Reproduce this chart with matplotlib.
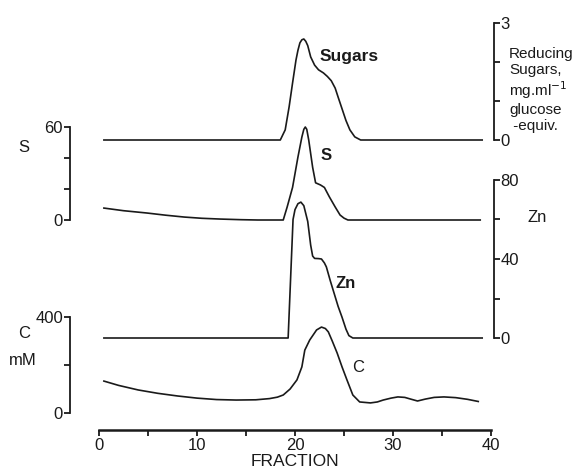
import matplotlib
matplotlib.use("Agg")
import matplotlib.pyplot as plt

plt.rcParams["font.family"] = ["Liberation Sans", "DejaVu Sans"]
W, H = 577, 469
INK = "#1a1a1a"

# ---- data (fraction number vs value) ----
sug_x = [0.5, 18.5, 19.0, 19.4, 19.75, 20.1, 20.3, 20.5, 20.7, 20.9, 21.1, 21.3, 21.6, 22.0,
         22.4, 22.9, 23.3, 23.7, 24.1, 24.4, 24.8, 25.2, 25.6, 26.1, 26.7, 39.1]
sug_y = [0, 0, 0.26, 0.85, 1.46, 2.05, 2.3, 2.49, 2.57, 2.59, 2.53, 2.42, 2.13, 1.92,
         1.8, 1.72, 1.63, 1.52, 1.33, 1.1, 0.8, 0.5, 0.26, 0.08, 0, 0]

s_x = [0.5, 2.5, 4.9, 6.8, 8.7, 10.5, 12.4, 14.5, 16.2, 18.8, 19.2, 19.75, 20.3, 20.7, 20.9,
       21.05, 21.2, 21.4, 21.8, 22.1, 22.6, 23.0, 23.5, 24.1, 24.6, 25.0, 25.4, 38.9]
s_y = [7.7, 6.0, 4.5, 3.1, 1.9, 1.1, 0.6, 0.2, 0, 0, 8.4, 21, 40.6, 53.5, 58.5,
       60, 58.5, 51.6, 34, 24, 22.6, 21, 15, 8.4, 3.2, 1.2, 0, 0]

zn_x = [0.5, 19.3, 19.8, 20.0, 20.3, 20.6, 20.9, 21.1, 21.3, 21.6, 21.8, 22.0, 22.4, 22.7,
        23.0, 23.2, 23.6, 24.0, 24.4, 24.8, 25.2, 25.5, 25.9, 39.1]
zn_y = [0, 0, 60, 65, 68, 68.8, 67, 63, 59, 47, 41.5, 40.3, 40.2, 40,
        38, 36, 29, 22.5, 16, 10.5, 4.5, 1.2, 0, 0]

c_x = [0.5, 2, 4, 6, 8, 10, 12, 14, 16, 17.4, 18.2, 18.8, 19.5, 20.2, 20.7, 21.0, 21.5,
       22.2, 22.7, 23.1, 23.4, 23.8, 24.3, 24.8, 25.3, 25.9, 26.6, 27.7, 28.4, 29.0,
       29.8, 30.5, 31.2, 31.8, 32.5, 33.3, 34.2, 35.2, 36.4, 37.6, 38.7]
c_y = [133, 115, 96, 82, 71, 62, 56, 54, 55, 60, 66, 75, 100, 138, 192, 262, 304,
       346, 358, 352, 338, 300, 250, 192, 138, 75, 46, 42, 46, 54,
       62, 67, 65, 58, 50, 58, 65, 67, 64, 57, 48]

x_ticks = [0, 10, 20, 30, 40]
x_minor = [5, 15, 25, 35]

fig = plt.figure(figsize=(W / 100, H / 100), dpi=100)
X0, X1 = 99, 491  # pixel columns of fraction 0 and 40


def trace_axes(top_px, bot_px, lim, side, ticks, labels):
    ax = fig.add_axes([X0 / W, 1 - bot_px / H, (X1 - X0) / W, (bot_px - top_px) / H])
    ax.patch.set_visible(False)
    ax.set_xlim(0, 40)
    ax.set_ylim(*lim)
    for sp in ax.spines.values():
        sp.set_visible(False)
    ax.set_xticks([])
    sp = ax.spines[side]
    sp.set_visible(True)
    sp.set_linewidth(1.3)
    sp.set_color(INK)
    sp.set_bounds(*lim)
    if side == "left":
        sp.set_position(("outward", 21))
    else:
        ax.yaxis.tick_right()
        sp.set_position(("outward", 2))
    ax.set_yticks(ticks)
    ax.set_yticklabels(labels)
    ax.tick_params(axis="y", direction="out", length=4, width=1.3, color=INK,
                   labelsize=12, pad=1, labelcolor=INK)
    return ax


ax_sug = trace_axes(23, 140, (0, 3), "right", [0, 1, 2, 3], ["0", "", "", "3"])
ax_s = trace_axes(127, 220, (0, 60), "left", [0, 20, 40, 60], ["0", "", "", "60"])
ax_zn = trace_axes(180, 338, (0, 80), "right", [0, 20, 40, 60, 80], ["0", "", "40", "", "80"])
ax_c = trace_axes(317, 413, (0, 400), "left", [0, 200, 400], ["0", "", "400"])

for ax, xs, ys in [(ax_sug, sug_x, sug_y), (ax_s, s_x, s_y), (ax_zn, zn_x, zn_y), (ax_c, c_x, c_y)]:
    ax.plot(xs, ys, color=INK, lw=1.2, clip_on=False, solid_joinstyle="round")

# fraction axis
ax_c.spines["bottom"].set_visible(True)
ax_c.spines["bottom"].set_position(("outward", 12))
ax_c.spines["bottom"].set_linewidth(1.8)
ax_c.spines["bottom"].set_color(INK)
ax_c.set_xticks(x_ticks)
ax_c.set_xticks(x_minor, minor=True)
ax_c.tick_params(axis="x", which="both", direction="out", length=4, width=1.3, color=INK,
                 labelsize=12, pad=2, labelcolor=INK)
ax_c.set_xlabel("FRACTION", fontsize=12.5, labelpad=1, color=INK)


def label(x, y, s, **kw):
    fig.text(x / W, 1 - y / H, s, color=INK, va="center", **kw)


label(320, 57, "Sugars", fontsize=12.5, fontweight="bold")
label(321, 155, "S", fontsize=12, fontweight="bold")
label(336, 283, "Zn", fontsize=12, fontweight="bold")
label(352, 367, "C", fontsize=12)
label(18, 147, "S", fontsize=12)
label(18, 334, "C", fontsize=12)
label(9, 360, "mM", fontsize=12)
label(528, 218, "Zn", fontsize=12)
label(509, 90, "Reducing\nSugars,\nmg.ml$^{-1}$\nglucose\n -equiv.", fontsize=11,
      linespacing=1.15)

fig.savefig("out.png", dpi=100)
